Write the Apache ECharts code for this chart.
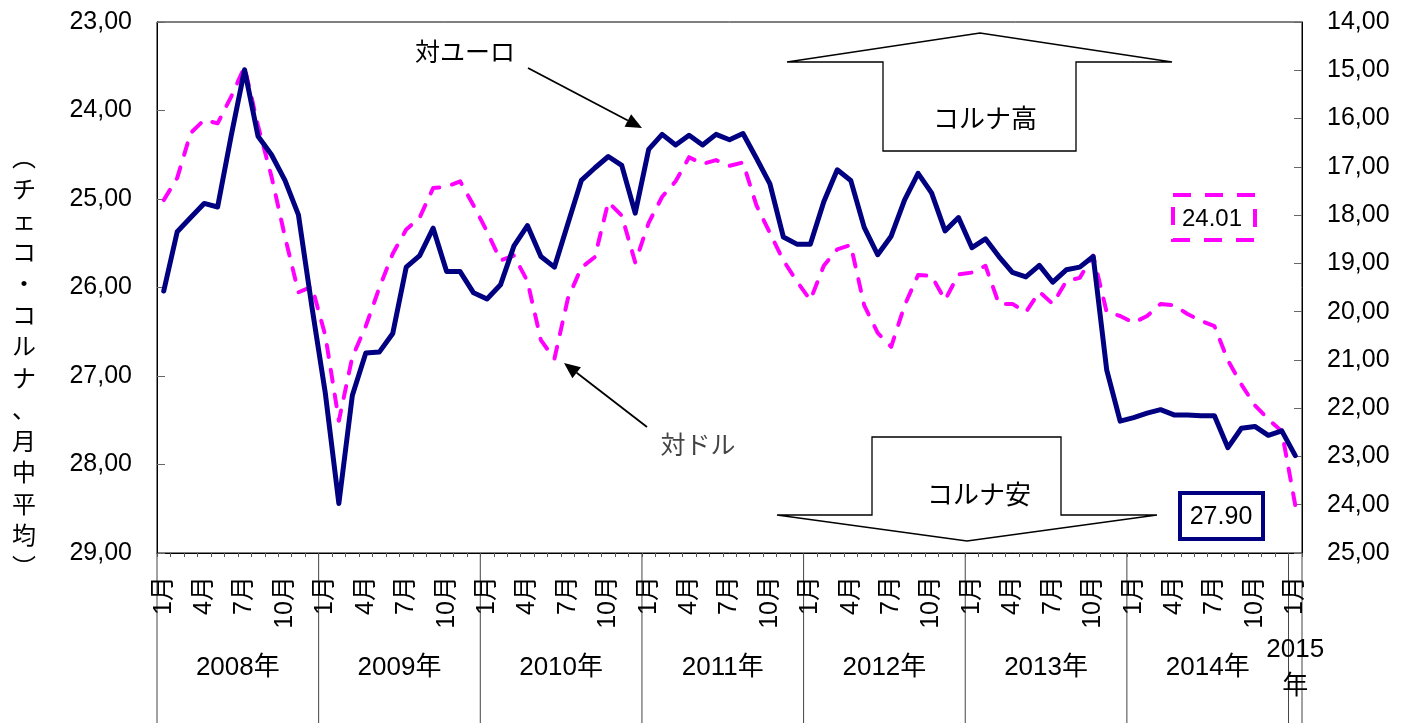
<!DOCTYPE html>
<html><head><meta charset="utf-8">
<script src="https://cdn.jsdelivr.net/npm/echarts@6/dist/echarts.min.js"></script>
<style>html,body{margin:0;padding:0;background:#fff}#c{width:1407px;height:723px}</style>
</head><body><div id="c"></div>
<script>
// ---- data ----
const years = ['2008', '2009', '2010', '2011', '2012', '2013', '2014', '2015'];
const yearLabels = ['2008年', '2009年', '2010年', '2011年', '2012年', '2013年', '2014年', '2015\n年'];
const monthsInYear = [12, 12, 12, 12, 12, 12, 12, 1];
const monthLabel = '月';

// CZK per EUR (left axis, monthly average)
const eurCzk = [
  26.04, 25.37, 25.21, 25.05, 25.09, 24.29, 23.54, 24.29, 24.50, 24.79, 25.18, 26.22,
  27.20, 28.44, 27.22, 26.74, 26.73, 26.52, 25.77, 25.64, 25.33, 25.82, 25.82, 26.06,
  26.13, 25.97, 25.53, 25.30, 25.65, 25.77, 25.28, 24.79, 24.65, 24.52, 24.62, 25.16,
  24.44, 24.27, 24.39, 24.28, 24.39, 24.27, 24.33, 24.26, 24.54, 24.83, 25.43, 25.51,
  25.51, 25.03, 24.67, 24.79, 25.32, 25.63, 25.42, 25.01, 24.71, 24.93, 25.36, 25.21,
  25.55, 25.45, 25.65, 25.83, 25.88, 25.75, 25.94, 25.80, 25.77, 25.65, 26.93, 27.51,
  27.47, 27.42, 27.38, 27.44, 27.44, 27.45, 27.45, 27.81, 27.59, 27.57, 27.67, 27.62,
  27.90
];
// CZK per USD (right axis, monthly average)
const usdCzk = [
  17.69, 17.23, 16.30, 16.03, 16.10, 15.55, 14.93, 16.15, 17.20, 18.45, 19.60, 19.48,
  20.50, 22.26, 20.94, 20.30, 19.51, 18.80, 18.30, 18.05, 17.44, 17.41, 17.30, 17.80,
  18.34, 18.94, 18.84, 19.37, 20.59, 20.98, 19.73, 19.09, 18.87, 17.73, 18.01, 18.98,
  18.16, 17.62, 17.30, 16.80, 16.94, 16.86, 16.98, 16.91, 17.80, 18.37, 18.94, 19.37,
  19.76, 19.05, 18.71, 18.62, 19.87, 20.44, 20.73, 19.87, 19.24, 19.26, 19.76, 19.23,
  19.19, 19.05, 19.84, 19.84, 20.01, 19.59, 19.84, 19.37, 19.30, 18.84, 20.01, 20.09,
  20.23, 20.09, 19.84, 19.87, 20.05, 20.19, 20.30, 21.01, 21.51, 21.94, 22.23, 22.48,
  24.01
];
const leftAxisRange = [23, 29];
const rightAxisRange = [14, 25];
const shownMonths = [1, 4, 7, 10];
const yTitle = ['︵', 'チ', 'ェ', 'コ', '・', 'コ', 'ル', 'ナ', '、', '月', '中', '平', '均', '︶'];
const seriesNames = ['対ユーロ', '対ドル'];
const bandLabels = ['コルナ高', 'コルナ安'];

// ---- categories built from the year / month lists ----
const categories = [];
const monthOf = [];
years.forEach((y, yi) => {
  for (let m = 1; m <= monthsInYear[yi]; m++) { categories.push(y + '-' + m); monthOf.push(m); }
});

const FONT = "'Liberation Sans', 'Noto Sans CJK JP', sans-serif";
const fmt = v => v.toFixed(2).replace('.', ',');

const chart = echarts.init(document.getElementById('c'), null, { renderer: 'canvas' });
chart.setOption({
  animation: false,
  backgroundColor: '#ffffff',
  textStyle: { fontFamily: FONT },
  grid: { left: 157, right: 105, top: 22, bottom: 170, containLabel: false, outerBoundsMode: 'none',
          show: true, borderColor: '#000', borderWidth: 1 },
  xAxis: [{
    type: 'category', data: categories, boundaryGap: true,
    axisLine: { lineStyle: { color: '#000', width: 1 } },
    axisTick: { show: true, interval: 0, length: 4, lineStyle: { color: '#555' } },
    axisLabel: {
      interval: (i) => shownMonths.indexOf(monthOf[i]) >= 0,
      rotate: 90, margin: 23, fontSize: 25, color: '#000', fontFamily: FONT,
      hideOverlap: false,
      formatter: (v, i) => monthOf[i] + monthLabel
    },
    splitLine: { show: false }
  }],
  yAxis: [{
    type: 'value', min: leftAxisRange[0], max: leftAxisRange[1], interval: 1, inverse: true, position: 'left',
    axisLine: { show: true, lineStyle: { color: '#000' } },
    axisTick: { show: true, inside: true, length: 8, lineStyle: { color: '#666' } },
    axisLabel: { fontSize: 25, color: '#000', margin: 25, formatter: fmt, fontFamily: FONT },
    splitLine: { show: false }
  }, {
    type: 'value', min: rightAxisRange[0], max: rightAxisRange[1], interval: 1, inverse: true, position: 'right',
    axisLine: { show: true, lineStyle: { color: '#000' } },
    axisTick: { show: true, inside: true, length: 8, lineStyle: { color: '#666' } },
    axisLabel: { fontSize: 25, color: '#000', margin: 25, formatter: fmt, fontFamily: FONT },
    splitLine: { show: false }
  }],
  series: [{
    name: seriesNames[1], type: 'line', yAxisIndex: 1, data: usdCzk, symbol: 'none', z: 2,
    lineStyle: { color: '#ff00ff', width: 4, type: [12, 13], cap: 'round', join: 'round' }
  }, {
    name: seriesNames[0], type: 'line', yAxisIndex: 0, data: eurCzk, symbol: 'none', z: 3,
    lineStyle: { color: '#000080', width: 5, cap: 'round', join: 'round' }
  }]
});

// ---- decorations computed from the chart's own scales ----
const px = i => chart.convertToPixel({ xAxisIndex: 0 }, i);
const band = px(1) - px(0);
const yBottom = chart.convertToPixel({ yAxisIndex: 0 }, leftAxisRange[1]);
const H = 723;
const g = [];
let start = 0;
years.forEach((y, yi) => {
  const end = start + monthsInYear[yi] - 1;
  const x0 = px(start) - band / 2, x1 = px(end) + band / 2;
  g.push({ type: 'line', shape: { x1: x0, y1: yBottom, x2: x0, y2: H }, style: { stroke: '#444', lineWidth: 1 }, silent: true });
  if (yi === years.length - 1) {
    g.push({ type: 'line', shape: { x1: x1, y1: yBottom, x2: x1, y2: H }, style: { stroke: '#444', lineWidth: 1 }, silent: true });
  }
  g.push({ type: 'text', x: (x0 + x1) / 2, y: yBottom + 115, style: {
    text: yearLabels[yi], fontSize: 26, fontFamily: FONT, fill: '#000', align: 'center', verticalAlign: 'middle', lineHeight: 37 } });
  start = end + 1;
});

function arrow(x1, y1, x2, y2, color) {
  const a = Math.atan2(y2 - y1, x2 - x1), L = 16, W = 7;
  const bx = x2 - L * Math.cos(a), by = y2 - L * Math.sin(a);
  return [
    { type: 'line', shape: { x1, y1, x2: bx, y2: by }, style: { stroke: color, lineWidth: 1.8 }, z: 10 },
    { type: 'polygon', shape: { points: [[x2, y2], [bx + W * Math.sin(a), by - W * Math.cos(a)], [bx - W * Math.sin(a), by + W * Math.cos(a)]] }, style: { fill: color }, z: 10 }
  ];
}

// vertical axis title
g.push({ type: 'text', x: 24, y: 362, style: { text: yTitle.join('\n'), fontSize: 24, lineHeight: 31.5,
  fontFamily: "'Noto Sans CJK JP', sans-serif", fill: '#000', align: 'center', verticalAlign: 'middle' } });

// series annotations
g.push({ type: 'text', x: 465, y: 54, style: { text: seriesNames[0], fontSize: 25, fill: '#000', align: 'center', verticalAlign: 'middle', fontFamily: FONT }, z: 10 });
g.push(...arrow(528, 68, 642, 128, '#000'));
g.push({ type: 'text', x: 698, y: 447, style: { text: seriesNames[1], fontSize: 25, fill: '#444', align: 'center', verticalAlign: 'middle', fontFamily: FONT }, z: 10 });
g.push(...arrow(647, 427, 564, 363, '#000'));

// hollow block arrows
g.push({ type: 'polygon', shape: { points: [[787, 62], [883, 62], [883, 151], [1076, 151], [1076, 62], [1172, 62], [980, 33]] },
  style: { fill: '#fff', stroke: '#000', lineWidth: 1.3 }, z: 9 });
g.push({ type: 'text', x: 985, y: 121, style: { text: bandLabels[0], fontSize: 26, fill: '#000', align: 'center', verticalAlign: 'middle', fontFamily: FONT }, z: 10 });
g.push({ type: 'polygon', shape: { points: [[872, 437], [1061, 437], [1061, 515], [1157, 515], [967, 541], [777, 515], [872, 515]] },
  style: { fill: '#fff', stroke: '#000', lineWidth: 1.3 }, z: 9 });
g.push({ type: 'text', x: 979, y: 497, style: { text: bandLabels[1], fontSize: 26, fill: '#000', align: 'center', verticalAlign: 'middle', fontFamily: FONT }, z: 10 });

// last-value boxes
g.push({ type: 'rect', shape: { x: 1173, y: 195, width: 82, height: 45 }, style: { fill: '#fff', stroke: '#ff00ff', lineWidth: 4, lineDash: [18, 14] }, z: 10 });
g.push({ type: 'text', x: 1212, y: 219, style: { text: usdCzk[usdCzk.length - 1].toFixed(2), fontSize: 24, fill: '#000', align: 'center', verticalAlign: 'middle', fontFamily: FONT }, z: 11 });
g.push({ type: 'rect', shape: { x: 1180, y: 493, width: 83, height: 46 }, style: { fill: '#fff', stroke: '#000080', lineWidth: 4 }, z: 10 });
g.push({ type: 'text', x: 1221, y: 517, style: { text: eurCzk[eurCzk.length - 1].toFixed(2), fontSize: 25, fill: '#000', align: 'center', verticalAlign: 'middle', fontFamily: FONT }, z: 11 });

chart.setOption({ graphic: g });
</script>
</body></html>
